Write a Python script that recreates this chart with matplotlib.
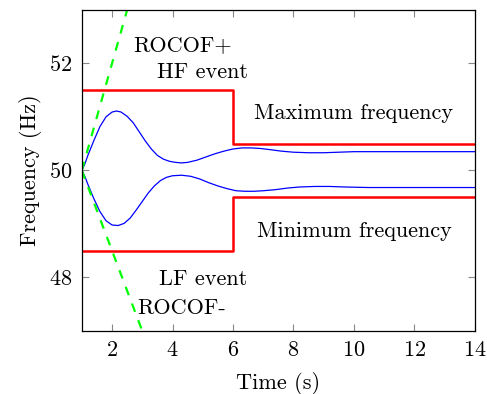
import matplotlib
matplotlib.use("Agg")
import matplotlib.pyplot as plt

plt.rcParams['font.family'] = 'serif'
plt.rcParams['font.serif'] = ['cmr10', 'DejaVu Serif']
plt.rcParams['mathtext.fontset'] = 'cm'
plt.rcParams['axes.formatter.use_mathtext'] = True
plt.rcParams['axes.unicode_minus'] = False

# frequency limits (step boundaries)
lim_t = [1, 6, 6, 14]
lim_max = [51.5, 51.5, 50.5, 50.5]
lim_min = [48.5, 48.5, 49.5, 49.5]

# ROCOF lines
rocof_t_up = [1, 2.5]
rocof_up = [50, 53]
rocof_t_dn = [1, 3]
rocof_dn = [50, 47]

# HF response
hf_t = [1.0, 1.1, 1.2, 1.4, 1.6, 1.8, 2.0, 2.15, 2.3, 2.5, 2.7, 2.9, 3.1, 3.3,
        3.5, 3.7, 3.9, 4.1, 4.3, 4.5, 4.8, 5.1, 5.4, 5.7, 6.0, 6.3, 6.6, 6.9,
        7.2, 7.6, 8.0, 8.5, 9.0, 9.5, 10.0, 11.0, 12.0, 13.0, 14.0]
hf_f = [50.00, 50.12, 50.28, 50.56, 50.82, 51.00, 51.09, 51.11, 51.09, 51.01,
        50.89, 50.72, 50.55, 50.40, 50.28, 50.21, 50.17, 50.15, 50.14, 50.15,
        50.19, 50.25, 50.31, 50.36, 50.40, 50.42, 50.42, 50.41, 50.39, 50.36,
        50.34, 50.33, 50.33, 50.34, 50.35, 50.35, 50.35, 50.35, 50.35]

# LF response
lf_t = [1.0, 1.1, 1.2, 1.4, 1.6, 1.8, 2.0, 2.2, 2.4, 2.6, 2.8, 3.0, 3.2, 3.4,
        3.6, 3.8, 4.0, 4.3, 4.6, 4.9, 5.2, 5.5, 5.8, 6.1, 6.4, 6.7, 7.0, 7.4,
        7.8, 8.2, 8.7, 9.2, 9.7, 10.5, 11.5, 12.5, 14.0]
lf_f = [50.00, 49.89, 49.74, 49.47, 49.23, 49.06, 48.98, 48.97, 49.01, 49.11,
        49.26, 49.42, 49.58, 49.71, 49.81, 49.87, 49.90, 49.91, 49.89, 49.84,
        49.77, 49.71, 49.66, 49.62, 49.61, 49.61, 49.62, 49.64, 49.67, 49.69,
        49.70, 49.70, 49.69, 49.68, 49.68, 49.68, 49.68]

fig = plt.figure(figsize=(4.87, 3.94), dpi=100)
ax = fig.add_axes([0.168, 0.160, 0.807, 0.815])

ax.plot(lim_t, lim_max, color='red', lw=1.8)
ax.plot(lim_t, lim_min, color='red', lw=1.8)
ax.plot(hf_t, hf_f, color='blue', lw=0.9)
ax.plot(lf_t, lf_f, color='blue', lw=0.9)
ax.plot(rocof_t_up, rocof_up, color='lime', lw=1.6, dashes=(4, 4))
ax.plot(rocof_t_dn, rocof_dn, color='lime', lw=1.6, dashes=(4, 4))

fs = 16
ax.text(2.69, 52.34, 'ROCOF+', fontsize=fs, va='center', ha='left')
ax.text(3.48, 51.84, 'HF event', fontsize=fs, va='center', ha='left')
ax.text(10.0, 51.06, 'Maximum frequency', fontsize=fs, va='center', ha='center')
ax.text(10.0, 48.86, 'Minimum frequency', fontsize=fs, va='center', ha='center')
ax.text(3.55, 47.97, 'LF event', fontsize=fs, va='center', ha='left')
ax.text(2.82, 47.42, 'ROCOF-', fontsize=fs, va='center', ha='left')

ax.set_xlim(1, 14)
ax.set_ylim(47, 53)
ax.set_xticks([2, 4, 6, 8, 10, 12, 14])
ax.set_yticks([48, 50, 52])
ax.tick_params(direction='in', length=5, width=0.8, color='#888888',
               top=True, right=True, labelsize=fs, pad=7)
for s in ax.spines.values():
    s.set_linewidth(0.9)
ax.set_xlabel('Time (s)', fontsize=fs, labelpad=8.5)
ax.set_ylabel('Frequency (Hz)', fontsize=fs, labelpad=5)

fig.savefig('out.png', dpi=100)
